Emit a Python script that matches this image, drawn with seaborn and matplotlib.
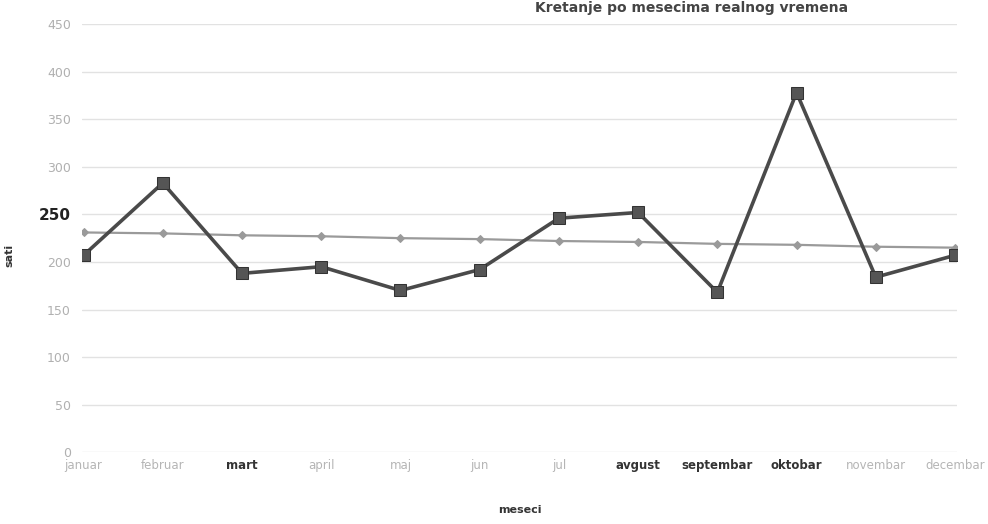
import pandas as pd
import matplotlib.pyplot as plt
import seaborn as sns

# data
meseci = ['januar', 'februar', 'mart', 'april', 'maj', 'jun', 'jul',
          'avgust', 'septembar', 'oktobar', 'novembar', 'decembar']
sati = [207, 283, 188, 195, 170, 192, 246, 252, 168, 378, 184, 207]
trend = [231, 230, 228, 227, 225, 224, 222, 221, 219, 218, 216, 215]
y_ticks = [0, 50, 100, 150, 200, 250, 300, 350, 400, 450]
bold_months = ['mart', 'avgust', 'septembar', 'oktobar']

df = pd.DataFrame({'mesec': meseci, 'x': range(len(meseci)),
                   'sati': sati, 'trend': trend})

sns.set_theme(style="whitegrid")
plt.rcParams['font.family'] = ['DejaVu Sans']

fig = plt.figure(figsize=(9.88, 5.24), dpi=100)
ax = fig.add_axes([0.083, 0.137, 0.886, 0.817])

# trend line first, main series on top
sns.lineplot(data=df, x='x', y='trend', ax=ax, color='#9a9a9a', linewidth=1.6,
             marker='D', markersize=4, markeredgecolor='#9a9a9a')
sns.lineplot(data=df, x='x', y='sati', ax=ax, color='#4a4a4a', linewidth=2.6,
             marker='s', markersize=8, markerfacecolor='#555555',
             markeredgecolor='#333333')

ax.set_xlim(-0.02, 11.03)
ax.set_ylim(0, 450)
ax.set_yticks(y_ticks)
ax.set_xticks(range(len(meseci)))
ax.set_xticklabels(meseci)
ax.grid(axis='y', color='#e2e2e2', linewidth=1.0)
ax.grid(axis='x', visible=False)
for s in ax.spines.values():
    s.set_visible(False)
ax.tick_params(axis='y', length=0, pad=8)
ax.tick_params(axis='x', length=0, pad=5)

for lbl in ax.get_yticklabels():
    if lbl.get_text() == '250':
        lbl.set_color('#222222')
        lbl.set_fontweight('bold')
        lbl.set_fontsize(11)
    else:
        lbl.set_color('#b0b0b0')
        lbl.set_fontsize(9)
for lbl in ax.get_xticklabels():
    if lbl.get_text() in bold_months:
        lbl.set_color('#333333')
        lbl.set_fontweight('bold')
    else:
        lbl.set_color('#b5b5b5')
    lbl.set_fontsize(8.5)

ax.set_xlabel('meseci', fontsize=8, fontweight='bold', color='#333333', labelpad=24)
ax.set_ylabel('sati', fontsize=8, fontweight='bold', color='#333333')
ax.yaxis.set_label_coords(-0.077, 0.46)

# title sits right at the top edge of the scan
fig.text(848 / 988, 0.984, 'Kretanje po mesecima realnog vremena', ha='right',
         va='center', fontsize=10, fontweight='bold', color='#444444')

plt.savefig('out.png', dpi=100)
